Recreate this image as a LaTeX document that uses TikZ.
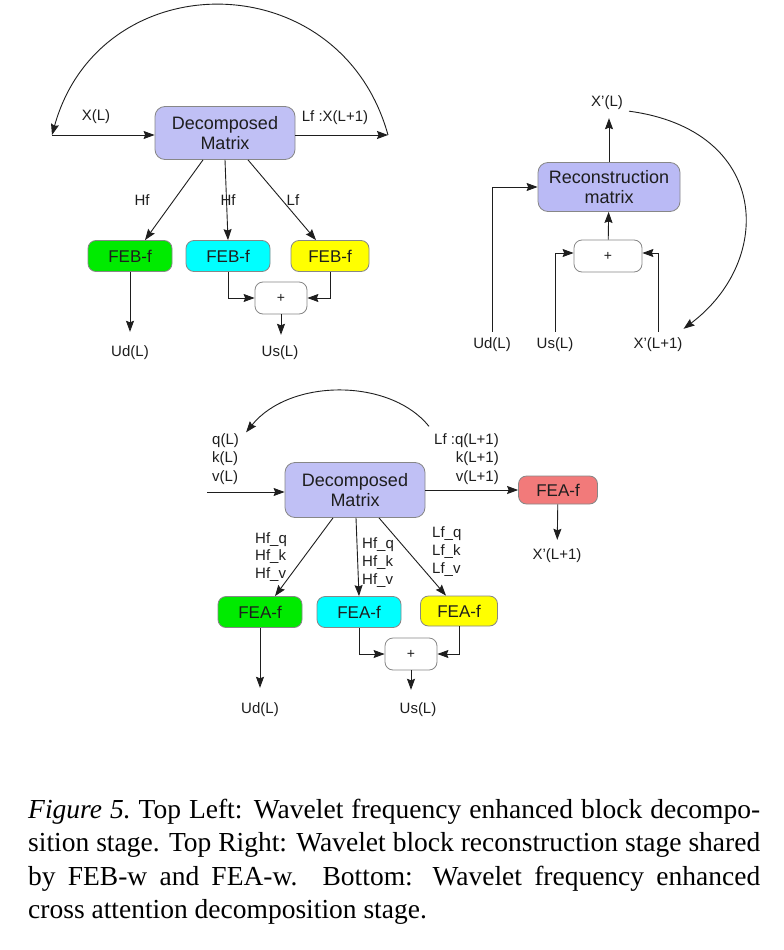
\documentclass[tikz,border=0pt]{standalone}
\usepackage{fontspec}
\setmainfont{Liberation Serif}
\setsansfont{Liberation Sans}
\definecolor{decblue}{RGB}{192, 192, 245}
\definecolor{recblue}{RGB}{186, 186, 245}
\definecolor{febgreen}{RGB}{0, 235, 0}
\definecolor{febcyan}{RGB}{0, 255, 255}
\definecolor{febyellow}{RGB}{255, 255, 0}
\definecolor{feared}{RGB}{242, 122, 122}
\definecolor{edgegray}{RGB}{135, 135, 135}
\definecolor{inkdark}{RGB}{30, 30, 30}
\usepackage{tikz}
\usetikzlibrary{arrows.meta, positioning}

\begin{document}
\begin{tikzpicture}[x=1pt, y=-1pt,
  matbox/.style={draw=edgegray, line width=0.8pt, rounded corners=10pt, align=center, inner sep=0pt, font=\sffamily\fontsize{18}{20}\selectfont, text=inkdark},
  febbox/.style={draw=edgegray, line width=0.8pt, rounded corners=8pt, inner sep=0pt, minimum width=84pt, minimum height=31pt, font=\sffamily\fontsize{17}{20}\selectfont, text=inkdark},
  plusbox/.style={draw=edgegray, line width=0.8pt, rounded corners=8pt, fill=white, inner sep=0pt, minimum width=52pt, minimum height=32pt, font=\sffamily\fontsize{14}{16}\selectfont, text=inkdark},
  lbl/.style={inner sep=1pt, font=\sffamily\fontsize{15}{18.5}\selectfont, text=inkdark},
  flow/.style={-{Stealth[length=11pt, width=8pt, inset=1.5pt]}, line width=0.9pt, draw=inkdark}]

  \useasboundingbox (0,0) rectangle (784,950);
  \fill[white] (0,0) rectangle (784,950);

  % Top left: decomposition stage
  \node[matbox, fill=decblue, minimum width=140pt, minimum height=53pt] (decA) at (225,133) {Decomposed\\Matrix};
  \coordinate (inA) at (52,135);
  \coordinate (outA) at (388,135);
  \draw[flow] (inA) -- (inA -| decA.west);
  \draw[flow] (decA.east |- outA) -- (outA);
  \draw[flow] (outA) .. controls (340,-38) and (100,-38) .. (inA);
  \node[lbl] (xA) at (96,117) {X(L)};
  \node[lbl] (lfA) at (335,118) {Lf :X(L+1)};

  \node[febbox, fill=febgreen] (febA1) at (130,256) {FEB-f};
  \node[febbox, fill=febcyan] (febA2) at (228,256) {FEB-f};
  \node[febbox, fill=febyellow, minimum width=78pt] (febA3) at (330,256) {FEB-f};
  \draw[flow] ([xshift=-22pt]decA.south) -- ([xshift=15pt]febA1.north);
  \draw[flow] (decA.south) -- (febA2.north);
  \draw[flow] ([xshift=23pt]decA.south) -- ([xshift=-14pt]febA3.north);
  \node[lbl] (hfA1) at (142,200) {Hf};
  \node[lbl] (hfA2) at (228,200) {Hf};
  \node[lbl] (lfA2) at (293,200) {Lf};

  \node[plusbox] (plusA) at (281,298) {+};
  \node[lbl] (udA) at (130,353) {Ud(L)};
  \node[lbl] (usA) at (280,353) {Us(L)};
  \draw[flow, shorten >=13pt] (febA1) -- (udA);
  \draw[flow] (febA2.south) |- (plusA.west);
  \draw[flow] (febA3.south) |- (plusA.east);
  \draw[flow, shorten >=10pt] (plusA.south) -- (plusA.south |- usA.north);

  % Top right: reconstruction stage
  \node[matbox, fill=recblue, minimum width=142pt, minimum height=49pt] (recB) at (609,187) {Reconstruction\\matrix};
  \node[plusbox, minimum width=68pt] (plusB) at (608,256) {+};
  \node[lbl] (xB) at (607,103) {X'(L)};
  \node[lbl] (udB) at (492,345) {Ud(L)};
  \node[lbl] (usB) at (555,345) {Us(L)};
  \node[lbl] (xB1) at (658,345) {X'(L+1)};
  \draw[flow, shorten >=7pt] (recB.north) -- (recB.north |- xB.south);
  \draw[flow] (plusB) -- (recB);
  \draw[flow, shorten <=5pt] (udB.north) |- (recB.west);
  \draw[flow, shorten <=5pt] (usB.north) |- ([yshift=3pt]plusB.west);
  \draw[flow, shorten <=5pt] (xB1.north) |- ([yshift=3pt]plusB.east);
  \draw[flow] ([xshift=5pt]xB.south east) .. controls (770,130) and (775,260) .. ([yshift=8pt]xB1.north east);

  % Bottom: cross attention decomposition stage
  \node[matbox, fill=decblue, minimum width=140pt, minimum height=55pt] (decC) at (355,490) {Decomposed\\Matrix};
  \node[febbox, fill=feared, minimum width=79pt, minimum height=28pt] (feaR) at (558,490) {FEA-f};
  \coordinate (inC) at (207,492);
  \draw[flow] (inC) -- (inC -| decC.west);
  \draw[flow] (decC.east) -- (feaR.west);
  \node[lbl, align=left, anchor=west] (qkvC) at (211,459) {q(L)\\k(L)\\v(L)};
  \node[lbl, align=right, anchor=east] (lfC) at (500,459) {Lf :q(L+1)\\k(L+1)\\v(L+1)};
  \draw[flow] ([shift={(-4pt,6pt)}]lfC.north west) .. controls (390,378) and (290,378) .. ([xshift=6pt]qkvC.north east);
  \node[lbl] (xC) at (557,556) {X'(L+1)};
  \draw[flow, shorten >=8pt] (feaR) -- (xC);

  \node[febbox, fill=febgreen] (feaC1) at (260,612) {FEA-f};
  \node[febbox, fill=febcyan] (feaC2) at (359,612) {FEA-f};
  \node[febbox, fill=febyellow, minimum width=77pt, minimum height=30pt] (feaC3) at (459,611) {FEA-f};
  \draw[flow] ([xshift=-22pt]decC.south) -- ([xshift=15pt]feaC1.north);
  \draw[flow] ([xshift=1pt]decC.south) -- (feaC2.north);
  \draw[flow] ([xshift=24pt]decC.south) -- ([xshift=-13pt]feaC3.north);
  \node[lbl, align=left, anchor=west, font=\sffamily\fontsize{15}{17.5}\selectfont] (hfC1) at (254,557) {Hf\_q\\Hf\_k\\Hf\_v};
  \node[lbl, align=left, anchor=west, font=\sffamily\fontsize{15}{18}\selectfont] (hfC2) at (361,563) {Hf\_q\\Hf\_k\\Hf\_v};
  \node[lbl, align=left, anchor=west, font=\sffamily\fontsize{15}{18}\selectfont] (lfC2) at (431,552) {Lf\_q\\Lf\_k\\Lf\_v};

  \node[plusbox] (plusC) at (411,654) {+};
  \node[lbl] (udC) at (260,710) {Ud(L)};
  \node[lbl] (usC) at (418,710) {Us(L)};
  \draw[flow, shorten >=14pt] (feaC1) -- (udC);
  \draw[flow] (feaC2.south) |- (plusC.west);
  \draw[flow] (feaC3.south) |- (plusC.east);
  \draw[flow, shorten >=12pt] (plusC.south) -- (plusC.south |- usC.north);

  % Caption
  \node[anchor=north west, inner sep=0pt, text width=732pt, align=justify, font=\fontsize{27.5}{33.3}\selectfont] (caption) at (28,799) {\noindent\textit{Figure 5.}\ Top Left: Wavelet frequency enhanced block decompo-\linebreak sition stage. Top Right: Wavelet block reconstruction stage shared\linebreak by FEB-w and FEA-w. Bottom: Wavelet frequency enhanced\linebreak cross attention decomposition stage.};
\end{tikzpicture}
\end{document}
